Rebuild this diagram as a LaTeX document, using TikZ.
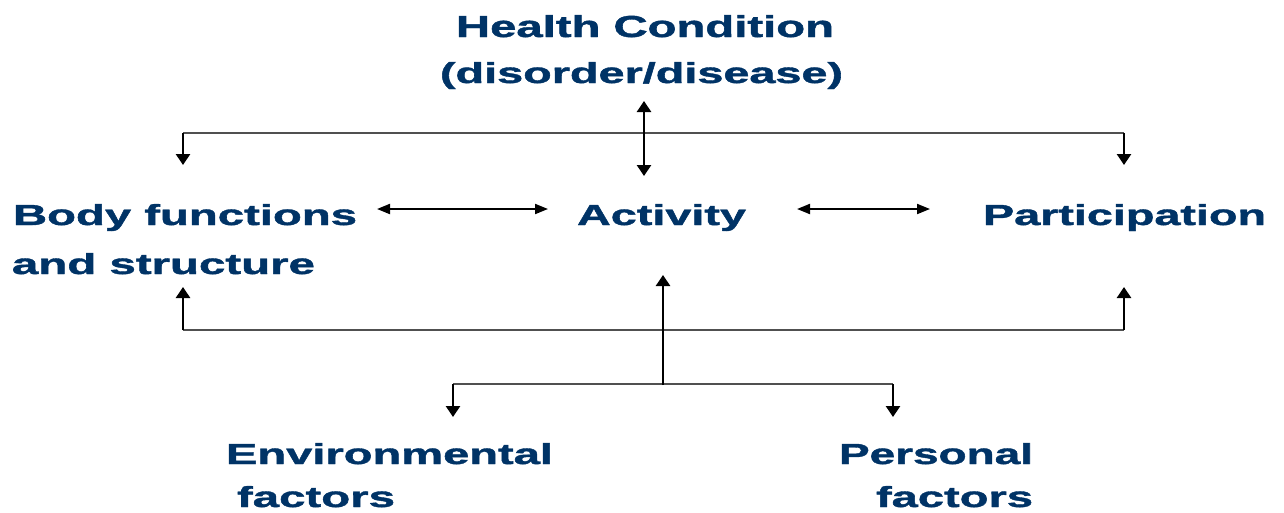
\documentclass[tikz,border=0pt]{standalone}
\usepackage{graphicx}
\usepackage{fontspec}
\setmainfont{Liberation Sans}[BoldFeatures={FakeBold=1.2}]
\usetikzlibrary{arrows.meta}
\definecolor{icfblue}{RGB}{0,51,102}
\definecolor{linegray}{RGB}{80,80,80}
\newcommand{\fitlbl}[3]{\resizebox{#1pt}{#2pt}{\fontsize{27}{30}\selectfont\bfseries #3}}
\begin{document}
\begin{tikzpicture}[x=1pt,y=-1pt,
  lbl/.style={inner sep=0pt, outer sep=0pt, anchor=base west, text=icfblue},
  vconn/.style={line width=2.6pt, black, -{Triangle[length=11pt,width=14pt]}},
  hconn/.style={line width=2pt, black, {Triangle[length=13pt,width=10pt]}-{Triangle[length=13pt,width=10pt]}},
  vdbl/.style={line width=2.6pt, black, {Triangle[length=11pt,width=14pt]}-{Triangle[length=11pt,width=14pt]}},
  rail/.style={line width=1.6pt, linegray}]
\useasboundingbox (0,0) rectangle (1284,512);
% labels
\node[lbl] (hc1) at (456,37) {\fitlbl{378}{22}{Health Condition}};
\node[lbl] (hc2) at (440,83) {\fitlbl{403}{21}{(disorder/disease)}};
\node[lbl] (bf1) at (13,225) {\fitlbl{344}{21}{Body functions}};
\node[lbl] (bf2) at (12,274) {\fitlbl{303}{21}{and structure}};
\node[lbl] (act) at (577,225) {\fitlbl{169}{21}{Activity}};
\node[lbl] (par) at (983,225) {\fitlbl{283}{21}{Participation}};
\node[lbl] (env1) at (226,464) {\fitlbl{327}{21}{Environmental}};
\node[lbl] (env2) at (237,507) {\fitlbl{158}{21}{factors}};
\node[lbl] (per1) at (839,464) {\fitlbl{194}{21}{Personal}};
\node[lbl] (per2) at (876,507) {\fitlbl{157}{21}{factors}};
% coordinates
\coordinate (hcB) at (644,101);
\coordinate (actT) at (644,176);
\coordinate (tl) at (183,133);
\coordinate (tr) at (1124,133);
\coordinate (tlA) at (183,165);
\coordinate (trA) at (1124,165);
\coordinate (bl) at (183,330);
\coordinate (br) at (1124,330);
\coordinate (blA) at (183,287);
\coordinate (brA) at (1124,287);
\coordinate (cB) at (663,385);
\coordinate (cT) at (663,275);
\coordinate (el) at (453,384);
\coordinate (er) at (893,384);
\coordinate (elA) at (453,417);
\coordinate (erA) at (893,417);
\coordinate (h1a) at (377,209);
\coordinate (h1b) at (548,209);
\coordinate (h2a) at (797,209);
\coordinate (h2b) at (930,209);
% rails
\draw[rail] (tl) -- (tr);
\draw[rail] (bl) -- (br);
\draw[rail] (el) -- (er);
% vertical arrows
\draw[vdbl] (hcB) -- (actT);
\draw[vconn] (tl) -- (tlA);
\draw[vconn] (tr) -- (trA);
\draw[vconn] (bl) -- (blA);
\draw[vconn] (br) -- (brA);
\draw[vconn] (cB) -- (cT);
\draw[vconn] (el) -- (elA);
\draw[vconn] (er) -- (erA);
% horizontal double arrows
\draw[hconn] (h1a) -- (h1b);
\draw[hconn] (h2a) -- (h2b);
\end{tikzpicture}
\end{document}
